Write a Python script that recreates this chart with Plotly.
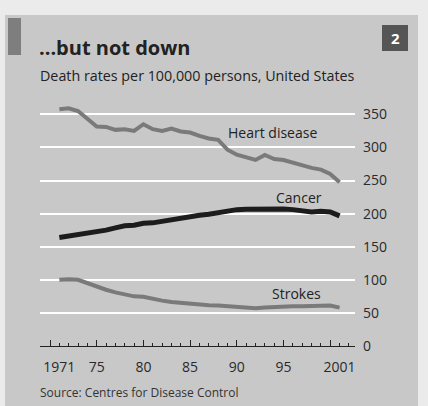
import plotly.graph_objects as go

years = list(range(1971, 2002))
heart = [357.5, 359, 355, 342.5, 331.5, 331, 326.5, 327.5, 325, 335,
         327.5, 325, 328.5, 324, 322.5, 317.5, 313.5, 311.5, 296.5, 289,
         285, 281, 288.5, 282.5, 281, 276.5, 272.5, 269, 266.5, 260, 247.5]
cancer = [164, 166, 167.5, 170, 171.5, 175, 178.5, 181.5, 182.5, 185.5,
          186, 188.5, 191.5, 194, 196, 197.5, 199, 201.5, 204, 206,
          206.5, 207, 207.5, 207, 207, 206, 204.5, 202.5, 203.5, 202.5, 196.5]
strokes = [100, 101, 100, 95, 89, 85, 81, 78, 75, 74.5,
           71, 68.5, 66.5, 65, 64, 62.5, 61.5, 61, 60, 58.5,
           57.5, 57, 58, 59, 59.5, 60, 60, 60.5, 61.5, 61, 58]

series_names = ["Heart disease", "Cancer", "Strokes"]
label_pos = [(1993.8, 322.5), (1996.7, 225), (1996.4, 80)]

x_label_vals = [1971, 1975, 1980, 1985, 1990, 1995, 2001]
x_label_text = ["1971", "75", "80", "85", "90", "95", "2001"]
y_tick_vals = [0, 50, 100, 150, 200, 250, 300, 350]

title = "...but not down"
subtitle = "Death rates per 100,000 persons, United States"
source = "Source: Centres for Disease Control"
chart_no = "2"

W, H = 428, 406
L, R, T, B = 40, 355, 100, 346
FONT = "Open Sans"


def px(x):
    return (x - L) / (R - L)


def py(y):
    return (B - y) / (B - T)


fig = go.Figure()
fig.add_trace(go.Scatter(x=years, y=heart, mode="lines", name=series_names[0],
                         line=dict(color="#7a7a7a", width=4), hoverinfo="skip"))
fig.add_trace(go.Scatter(x=years, y=cancer, mode="lines", name=series_names[1],
                         line=dict(color="#1c1c1c", width=5), hoverinfo="skip"))
fig.add_trace(go.Scatter(x=years, y=strokes, mode="lines", name=series_names[2],
                         xaxis="x2",
                         line=dict(color="#7a7a7a", width=4), hoverinfo="skip"))

for name, (lx, ly) in zip(series_names, label_pos):
    fig.add_annotation(x=lx, y=ly, text=name, showarrow=False,
                       xanchor="center", yanchor="middle",
                       font=dict(family=FONT, size=14, color="#222"))

xr = [1968.93, 2002.65]
fig.update_layout(
    width=W, height=H,
    margin=dict(l=L, r=W - R, t=T, b=H - B, pad=0),
    paper_bgcolor="#ebebeb",
    plot_bgcolor="rgba(0,0,0,0)",
    showlegend=False,
    xaxis=dict(range=xr, showgrid=False, zeroline=False,
               showline=True, linecolor="#222", linewidth=1.2,
               tickmode="linear", tick0=1970, dtick=5,
               ticks="inside", ticklen=6, tickcolor="#222", tickwidth=1,
               showticklabels=False,
               minor=dict(ticks="inside", dtick=1, tick0=1970, ticklen=3,
                          tickcolor="#222", tickwidth=1, showgrid=False)),
    xaxis2=dict(range=xr, overlaying="x", matches="x", anchor="y", side="bottom",
                showgrid=False, zeroline=False, showline=False,
                tickmode="array", tickvals=x_label_vals, ticktext=x_label_text,
                ticks="", ticklabelstandoff=11,
                tickfont=dict(family=FONT, size=14, color="#2a2a2a")),
    yaxis=dict(range=[0, (B - T) / 0.662], side="right",
               tickmode="array", tickvals=y_tick_vals,
               showgrid=True, gridcolor="#ffffff", gridwidth=1.5,
               zeroline=False, showline=False, ticks="",
               ticklabelstandoff=7,
               tickfont=dict(family=FONT, size=14, color="#2a2a2a")),
    shapes=[
        dict(type="rect", xref="paper", yref="paper",
             x0=px(5), x1=px(418), y0=py(H + 5), y1=py(15),
             fillcolor="#c8c8c8", line=dict(width=0), layer="below"),
        dict(type="rect", xref="paper", yref="paper",
             x0=px(8), x1=px(21), y0=py(55), y1=py(18),
             fillcolor="#7e7e7e", line=dict(width=0), layer="below"),
        dict(type="rect", xref="paper", yref="paper",
             x0=px(382), x1=px(408), y0=py(51), y1=py(25),
             fillcolor="#555555", line=dict(width=0), layer="below"),
    ],
)

fig.add_annotation(xref="paper", yref="paper", x=px(395), y=py(38),
                   xanchor="center", yanchor="middle",
                   text="<b>" + chart_no + "</b>", showarrow=False,
                   font=dict(family=FONT, size=15, color="#ffffff"))
fig.add_annotation(xref="paper", yref="paper", x=px(37), y=py(48),
                   xanchor="left", yanchor="middle",
                   text="<b>" + title + "</b>", showarrow=False,
                   font=dict(family=FONT, size=20, color="#222"))
fig.add_annotation(xref="paper", yref="paper", x=px(38), y=py(75),
                   xanchor="left", yanchor="middle",
                   text=subtitle, showarrow=False,
                   font=dict(family=FONT, size=14.3, color="#222"))
fig.add_annotation(xref="paper", yref="paper", x=px(38), y=py(392),
                   xanchor="left", yanchor="middle",
                   text=source, showarrow=False,
                   font=dict(family=FONT, size=12, color="#333"))

fig.write_html("out.html")
